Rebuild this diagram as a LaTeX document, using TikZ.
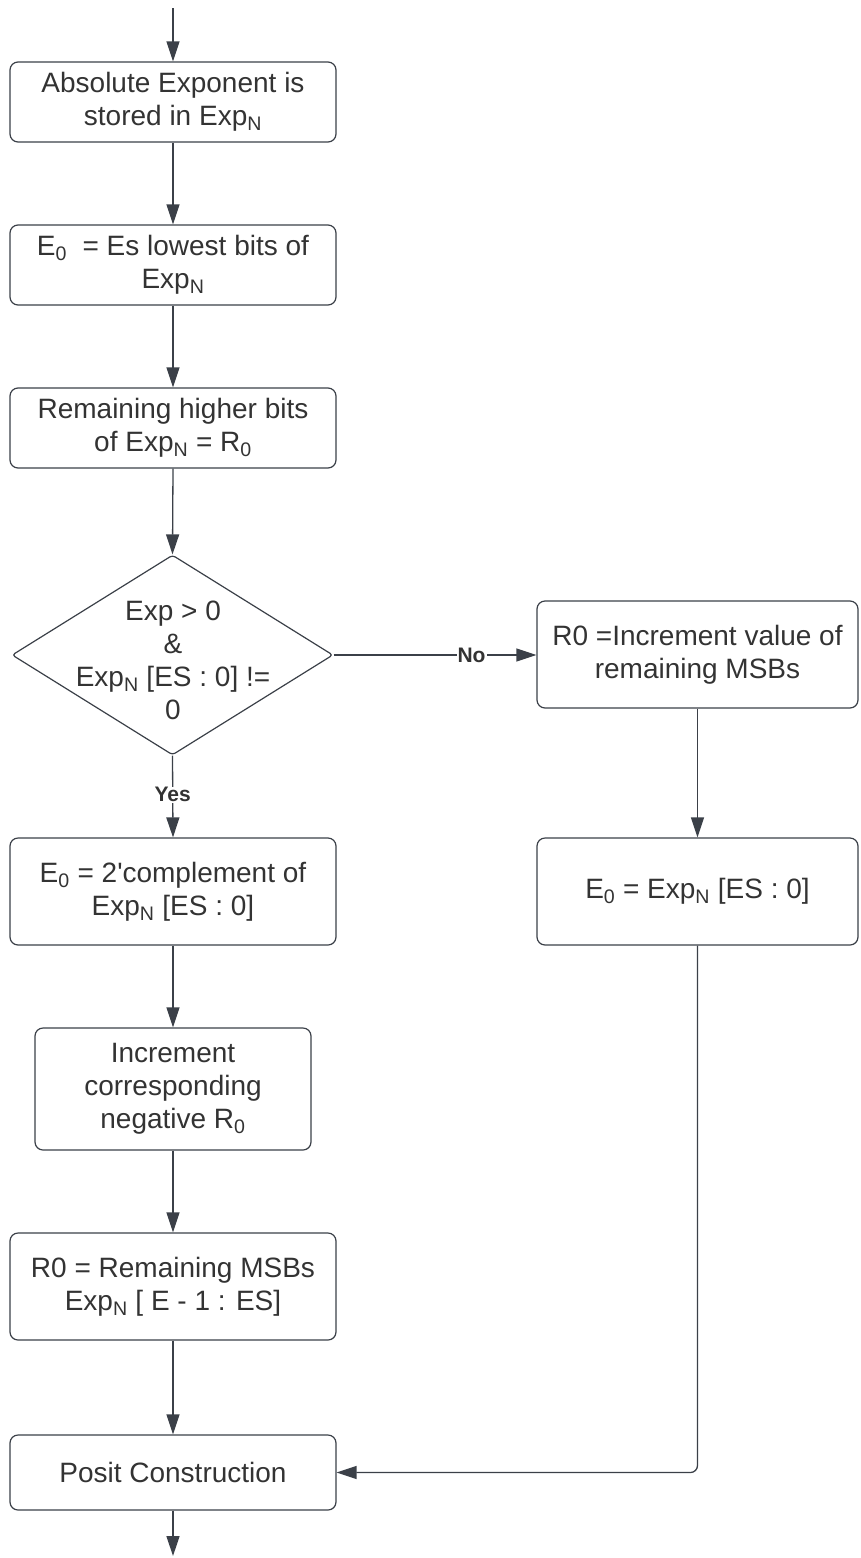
\documentclass[tikz,border=0pt]{standalone}
\usepackage{fontspec}
\newfontfamily\lsans{Liberation Sans}
\usetikzlibrary{shapes.geometric,arrows.meta}
\definecolor{ln}{HTML}{3B4048}
\definecolor{tx}{HTML}{333333}
\begin{document}
\begin{tikzpicture}[x=1pt,y=-1pt,
  box/.style={draw=ln, line width=1.2pt, rounded corners=8pt, align=center, text=tx,
    font=\lsans\fontsize{28}{33}\selectfont, inner sep=0pt},
  dtext/.style={align=center, text=tx, font=\lsans\fontsize{28}{33}\selectfont, inner sep=0pt},
  arr/.style={draw=ln, line width=1.3pt, -{Triangle[length=20pt,width=13pt]}},
  lbl/.style={fill=white, inner sep=1pt, text=tx, font=\lsans\bfseries\fontsize{21}{23}\selectfont}]
\useasboundingbox (0,0) rectangle (860,1558);

\node[box, minimum width=326pt, minimum height=80pt] (b1) at (173,102)
  {Absolute Exponent is\\stored in Exp\textsubscript{N}};
\node[box, minimum width=326pt, minimum height=80pt] (b2) at (173,265)
  {E\textsubscript{0}\ \ = Es lowest bits of\\Exp\textsubscript{N}};
\node[box, minimum width=326pt, minimum height=80pt] (b3) at (173,428)
  {Remaining higher bits\\of Exp\textsubscript{N} = R\textsubscript{0}};
\node[draw=ln, line width=1.2pt, diamond, minimum width=321pt, minimum height=200pt,
  inner sep=0pt, rounded corners=3pt] (dec) at (172.5,655) {};
\node[dtext] (dect) at (173,660) {Exp > 0\\\&\\Exp\textsubscript{N} [ES : 0] !=\\0};
\node[box, minimum width=321pt, minimum height=107pt] (r1) at (697.5,654.5)
  {R0 =Increment value of\\remaining MSBs};
\node[box, minimum width=321pt, minimum height=107pt] (r2) at (697.5,891.5)
  {E\textsubscript{0} = Exp\textsubscript{N} [ES : 0]};
\node[box, minimum width=326pt, minimum height=107pt] (b4) at (173,891.5)
  {E\textsubscript{0} = 2{\lsans\symbol{39}}complement of\\Exp\textsubscript{N} [ES : 0]};
\node[box, minimum width=276pt, minimum height=122pt] (b5) at (173,1089)
  {Increment\\corresponding\\negative R\textsubscript{0}};
\node[box, minimum width=326pt, minimum height=107pt] (b6) at (173,1286.5)
  {R0 = Remaining MSBs\\Exp\textsubscript{N} [ E - 1 : ES]};
\node[box, minimum width=326pt, minimum height=75pt] (b7) at (173,1472.5)
  {Posit Construction};

\coordinate (top) at (173,8);
\coordinate (bot) at (173,1556);

\draw[arr] (top) -- (b1.north);
\draw[arr] (b1.south) -- (b2.north);
\draw[arr] (b2.south) -- (b3.north);
\draw[arr] (b3.south) -- (dec.north);
\draw[arr] (dec.east) -- node[lbl, pos=0.68] (no) {No} (dec.east -| r1.west);
\draw[arr] (dec.south) -- node[lbl, pos=0.48] (yes) {Yes} (b4.north);
\draw[arr] (r1.south) -- (r2.north);
\draw[arr] (b4.south) -- (b5.north);
\draw[arr] (b5.south) -- (b6.north);
\draw[arr] (b6.south) -- (b7.north);
\draw[arr, rounded corners=7pt] (r2.south) |- (b7.east);
\draw[arr] (b7.south) -- (bot);
\end{tikzpicture}
\end{document}
